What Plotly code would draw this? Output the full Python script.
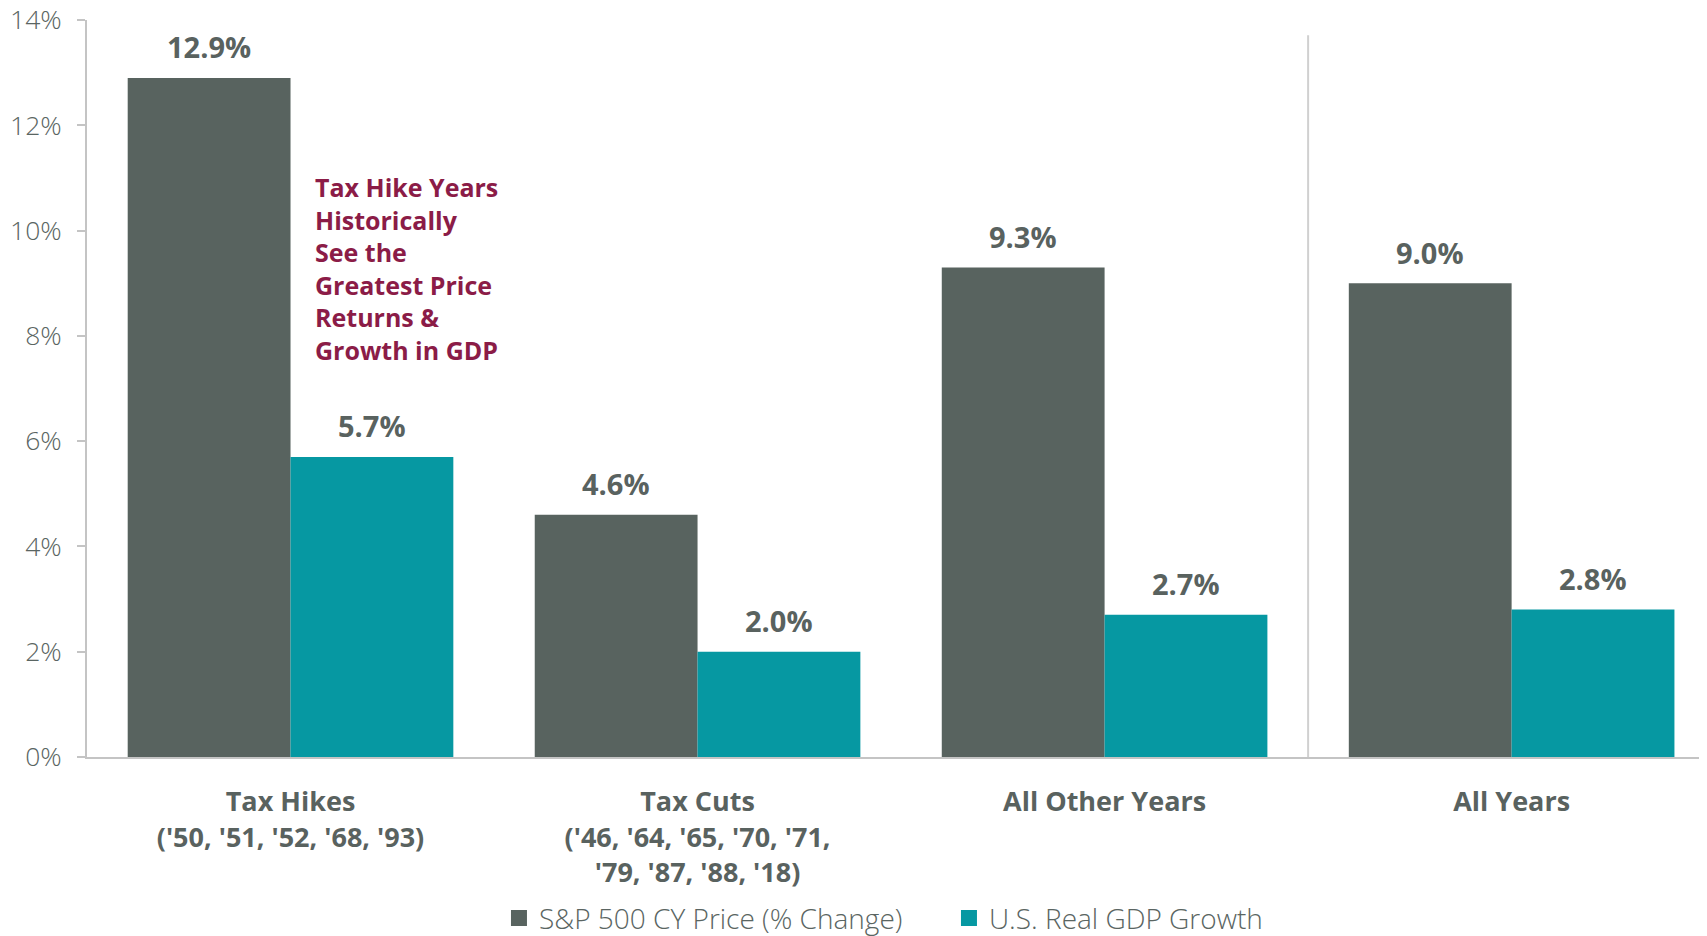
import plotly.graph_objects as go

categories = [
    "Tax Hikes<br>('50, '51, '52, '68, '93)",
    "Tax Cuts<br>('46, '64, '65, '70, '71,<br>'79, '87, '88, '18)",
    "All Other Years",
    "All Years",
]
sp500 = [12.9, 4.6, 9.3, 9.0]
gdp = [5.7, 2.0, 2.7, 2.8]
series_names = ["S&P 500 CY Price (% Change)", "U.S. Real GDP Growth"]
y_ticks = [0, 2, 4, 6, 8, 10, 12, 14]
note_text = "Tax Hike Years<br>Historically<br>See the<br>Greatest Price<br>Returns &<br>Growth in GDP"

GRAY = "#58635f"
TEAL = "#0698a2"
TEXT = "#59625f"
LIGHT_TEXT = "#5a6562"
MAROON = "#8b1c47"
AXIS = "#c4c4c4"
FONT = "Open Sans"

fig = go.Figure()
for vals, name, color in ((sp500, series_names[0], GRAY), (gdp, series_names[1], TEAL)):
    fig.add_trace(go.Bar(x=categories, y=vals, name=name, marker_color=color,
                         marker_line_width=0, showlegend=False, legendgroup=name))
    # legend-only entry with a larger square symbol
    fig.add_trace(go.Scatter(x=[None], y=[None], mode="markers", name=name,
                             legendgroup=name,
                             marker=dict(symbol="square", size=17, color=color)))

half = 0.2  # half of bar width in category units (bargap 0.2, two bars)
for i, (a, b) in enumerate(zip(sp500, gdp)):
    for xv, yv in ((i - half, a), (i + half, b)):
        fig.add_annotation(x=xv, y=yv, xref="x", yref="y", text=f"{yv:.1f}%",
                           showarrow=False, yanchor="middle", yshift=31,
                           font=dict(family=FONT, size=29, color=TEXT, weight="bold"))

fig.add_annotation(x=0.1394, y=0.7995, xref="paper", yref="paper", text=note_text,
                   showarrow=False, xanchor="left", yanchor="top", align="left",
                   font=dict(family=FONT, size=25, color=MAROON, weight="bold"))

fig.add_shape(type="line", x0=2.5, x1=2.5, y0=-0.1, y1=13.71, xref="x", yref="y",
              line=dict(color="#d0d0d0", width=2))

fig.update_layout(
    width=1699, height=928,
    margin=dict(l=79, r=0, t=12, b=179, autoexpand=False),
    paper_bgcolor="white", plot_bgcolor="white",
    barmode="group", bargap=0.2, bargroupgap=0,
    showlegend=True,
    legend=dict(orientation="h", x=0.2543, xanchor="left", y=-0.219, yanchor="middle",
                font=dict(family=FONT, size=28, color=LIGHT_TEXT, weight=300),
                entrywidth=405, traceorder="normal", itemsizing="trace"),
    xaxis=dict(range=[-0.5, 3.48], showline=True, linecolor=AXIS, linewidth=2,
               ticks="", showgrid=False, ticklabelstandoff=20, automargin=False,
               tickfont=dict(family=FONT, size=27, color=TEXT, weight="bold")),
    yaxis=dict(range=[0, 14], tickvals=y_ticks, ticktext=[f"{v}%" for v in y_ticks],
               showline=True, linecolor=AXIS, linewidth=2, ticks="outside", ticklen=8,
               tickcolor=AXIS, tickwidth=2, showgrid=False, zeroline=False,
               ticklabelstandoff=10, automargin=False, ticklabeloverflow="allow",
               tickfont=dict(family=FONT, size=26.5, color=LIGHT_TEXT, weight=300)),
)

fig.write_html("out.html")
